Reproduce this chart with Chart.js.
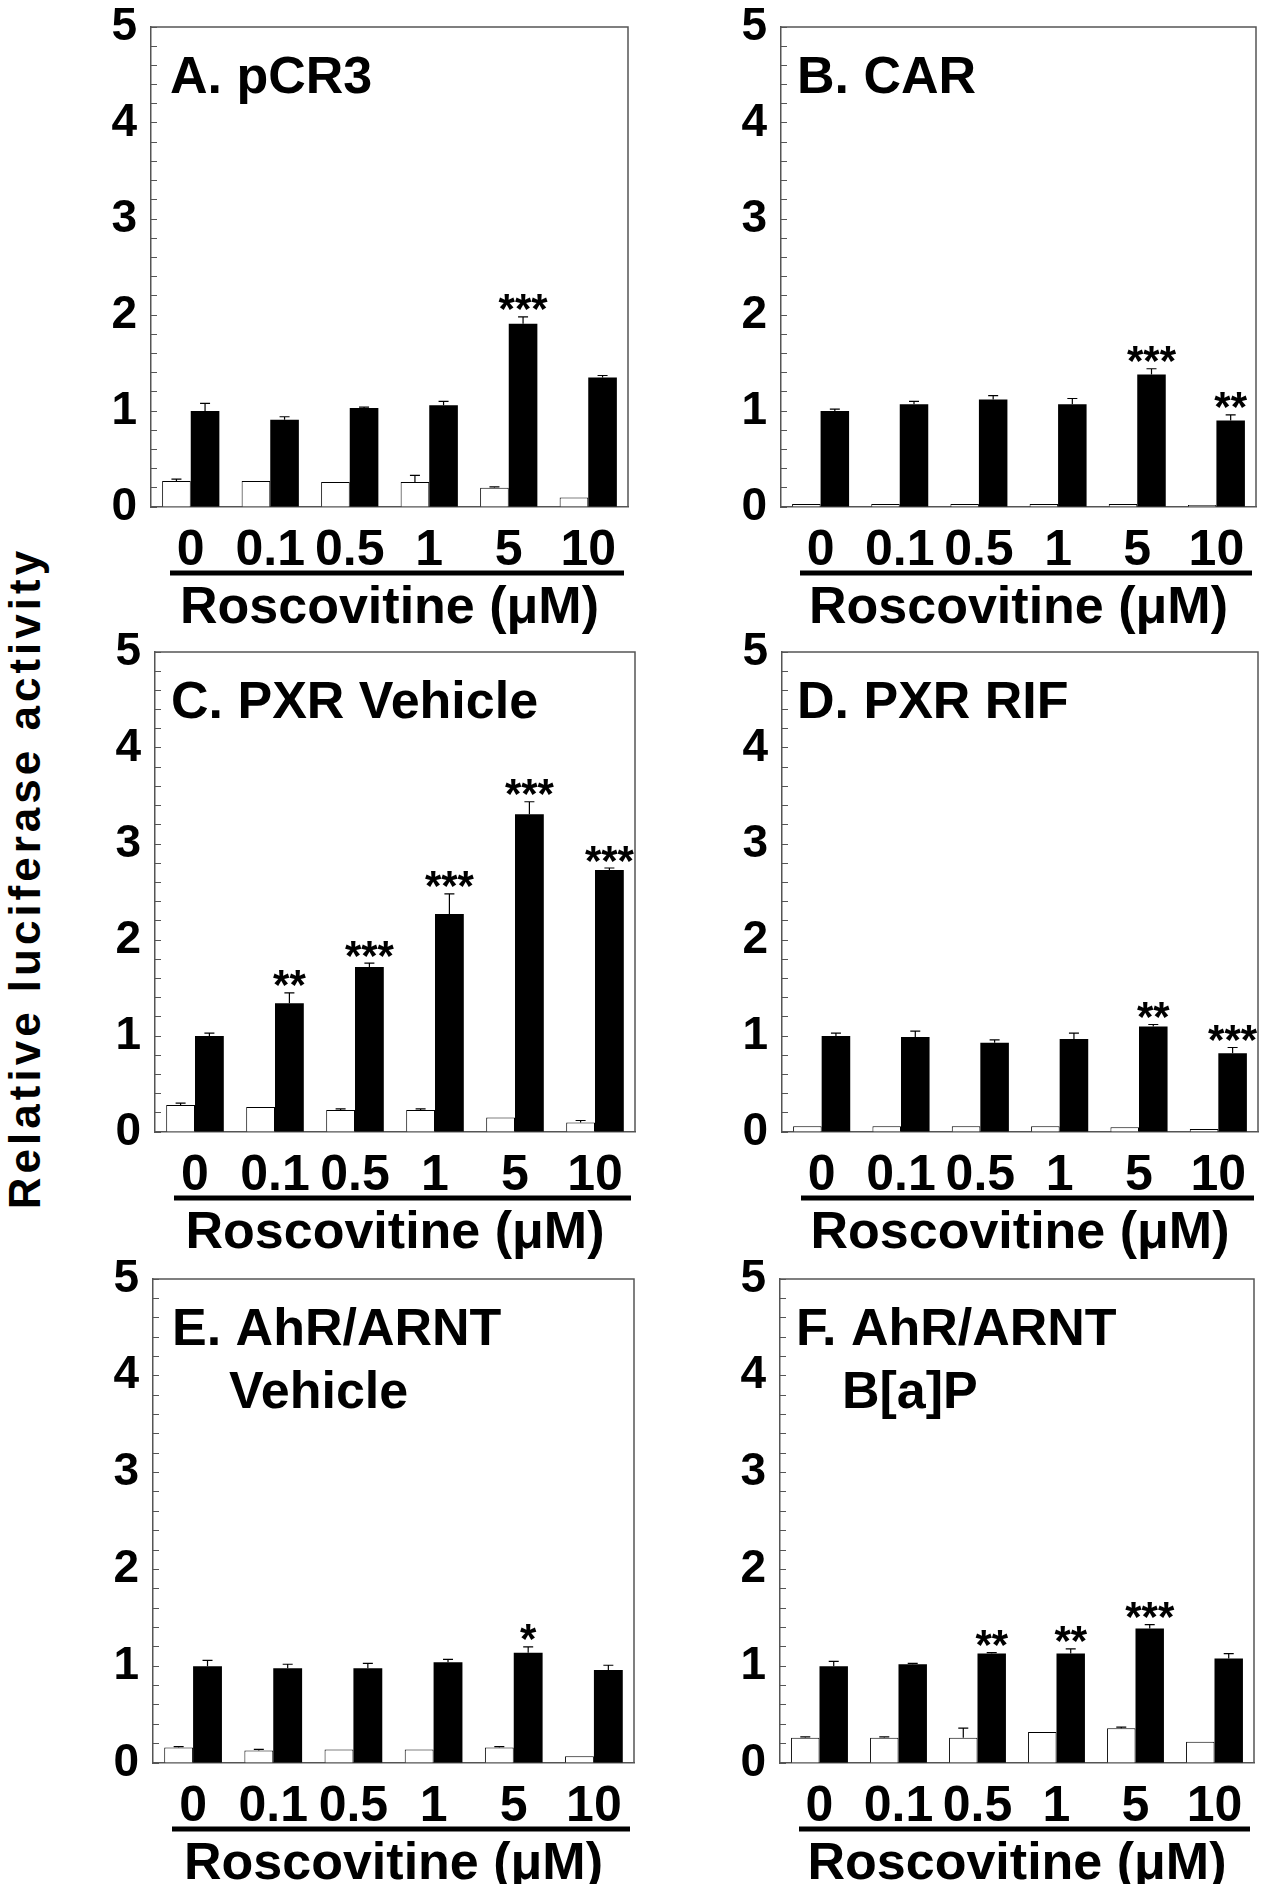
<!DOCTYPE html>
<html>
<head>
<meta charset="utf-8">
<title>Relative luciferase activity - Roscovitine</title>
<script src="https://cdn.jsdelivr.net/npm/chart.js@4.4.0/dist/chart.umd.min.js"></script>
<style>
  html, body { margin: 0; padding: 0; background: #fff; overflow: hidden; }
  body { width: 1263px; height: 1884px; position: relative; }
  canvas { position: absolute; }
  #ytitle {
    position: absolute; left: 25px; top: 878px;
    transform: translate(-50%, -50%) rotate(-90deg);
    font: bold 44px "Liberation Sans", Arial, sans-serif;
    letter-spacing: 4px; white-space: nowrap; color: #000;
  }
</style>
</head>
<body>
<div id="ytitle">Relative luciferase activity</div>
<script>
// categories and axis text
const doses = ['0', '0.1', '0.5', '1', '5', '10'];
const yMajor = [0, 1, 2, 3, 4, 5];
const xTitle = 'Roscovitine (μM)';

// A. pCR3
const titleA = ['A. pCR3'];
const whiteA = [0.27, 0.27, 0.26, 0.26, 0.20, 0.10];
const whiteErrA = [0.02, 0, 0, 0.07, 0.01, 0];
const blackA = [1.00, 0.91, 1.03, 1.06, 1.91, 1.35];
const blackErrA = [0.08, 0.03, 0.01, 0.04, 0.07, 0.02];
const starsA = ['', '', '', '', '***', ''];

// B. CAR
const titleB = ['B. CAR'];
const whiteB = [0.03, 0.03, 0.03, 0.03, 0.03, 0.02];
const whiteErrB = [0, 0, 0, 0, 0, 0];
const blackB = [1.00, 1.07, 1.12, 1.07, 1.38, 0.90];
const blackErrB = [0.02, 0.03, 0.04, 0.06, 0.06, 0.06];
const starsB = ['', '', '', '', '***', '**'];

// C. PXR Vehicle
const titleC = ['C. PXR Vehicle'];
const whiteC = [0.28, 0.26, 0.23, 0.23, 0.15, 0.10];
const whiteErrC = [0.02, 0, 0.01, 0.01, 0, 0.02];
const blackC = [1.00, 1.34, 1.72, 2.27, 3.31, 2.73];
const blackErrC = [0.03, 0.11, 0.04, 0.21, 0.13, 0.02];
const starsC = ['', '**', '***', '***', '***', '***'];

// D. PXR RIF
const titleD = ['D. PXR RIF'];
const whiteD = [0.06, 0.06, 0.06, 0.06, 0.05, 0.03];
const whiteErrD = [0, 0, 0, 0, 0, 0];
const blackD = [1.00, 0.99, 0.93, 0.97, 1.10, 0.82];
const blackErrD = [0.03, 0.06, 0.03, 0.06, 0.02, 0.06];
const starsD = ['', '', '', '', '**', '***'];

// E. AhR/ARNT Vehicle
const titleE = ['E. AhR/ARNT', 'Vehicle'];
const whiteE = [0.16, 0.13, 0.14, 0.14, 0.16, 0.07];
const whiteErrE = [0.01, 0.01, 0, 0, 0.01, 0];
const blackE = [1.00, 0.98, 0.98, 1.04, 1.14, 0.96];
const blackErrE = [0.06, 0.04, 0.05, 0.03, 0.06, 0.05];
const starsE = ['', '', '', '', '*', ''];

// F. AhR/ARNT B[a]P
const titleF = ['F. AhR/ARNT', 'B[a]P'];
const whiteF = [0.26, 0.26, 0.26, 0.32, 0.36, 0.22];
const whiteErrF = [0.01, 0.01, 0.10, 0, 0.01, 0];
const blackF = [1.00, 1.02, 1.13, 1.13, 1.39, 1.08];
const blackErrF = [0.05, 0.01, 0.01, 0.05, 0.04, 0.05];
const starsF = ['', '', '**', '**', '***', ''];

// layout: plot box [left, top, right, bottom] in page pixels, title indents
const panels = [
  { box: [151, 27, 628, 507],    indent: [19],     title: titleA, w: whiteA, we: whiteErrA, b: blackA, be: blackErrA, s: starsA },
  { box: [781, 27, 1256, 507],   indent: [16],     title: titleB, w: whiteB, we: whiteErrB, b: blackB, be: blackErrB, s: starsB },
  { box: [155, 652, 635, 1132],  indent: [16],     title: titleC, w: whiteC, we: whiteErrC, b: blackC, be: blackErrC, s: starsC },
  { box: [782, 652, 1258, 1132], indent: [15],     title: titleD, w: whiteD, we: whiteErrD, b: blackD, be: blackErrD, s: starsD },
  { box: [153, 1279, 634, 1763], indent: [19, 76], title: titleE, w: whiteE, we: whiteErrE, b: blackE, be: blackErrE, s: starsE },
  { box: [780, 1279, 1254, 1763], indent: [16, 62], title: titleF, w: whiteF, we: whiteErrF, b: blackF, be: blackErrF, s: starsF }
];

const FONT = '"Liberation Sans", Arial, sans-serif';
const AXIS_W = 60, PAD_T = 50, PAD_R = 20, XAXIS_H = 135;
const LINE = '#555';

Chart.defaults.font.family = FONT;
Chart.defaults.color = '#000';

// top/right frame, underline under the doses, panel caption
const framePlugin = {
  id: 'frame',
  afterDraw(chart, args, opts) {
    const { ctx, chartArea: a, scales: { x } } = chart;
    ctx.save();
    ctx.strokeStyle = LINE;
    ctx.lineWidth = 1.5;
    ctx.beginPath();
    ctx.moveTo(a.left, a.top);
    ctx.lineTo(a.right, a.top);
    ctx.lineTo(a.right, a.bottom);
    ctx.stroke();

    ctx.strokeStyle = '#000';
    ctx.lineWidth = 5;
    const uy = x.top + 66;
    ctx.beginPath();
    ctx.moveTo(a.left + 19, uy);
    ctx.lineTo(a.right - 4, uy);
    ctx.stroke();

    ctx.fillStyle = '#000';
    ctx.font = 'bold 52px ' + FONT;
    ctx.textAlign = 'left';
    ctx.textBaseline = 'alphabetic';
    opts.title.forEach((t, i) => ctx.fillText(t, a.left + opts.indent[i], a.top + 66 + i * 63));
    ctx.restore();
  }
};

// one-sided error bars and significance stars
const errorPlugin = {
  id: 'errorBars',
  afterDatasetsDraw(chart) {
    const { ctx, scales: { y } } = chart;
    ctx.save();
    chart.data.datasets.forEach((ds, di) => {
      const meta = chart.getDatasetMeta(di);
      meta.data.forEach((bar, i) => {
        const err = ds.errors[i];
        const top = y.getPixelForValue(ds.data[i] + err);
        if (err > 0) {
          ctx.strokeStyle = '#000';
          ctx.lineWidth = 1.2;
          ctx.beginPath();
          ctx.moveTo(bar.x, bar.y);
          ctx.lineTo(bar.x, top);
          ctx.moveTo(bar.x - 5, top);
          ctx.lineTo(bar.x + 5, top);
          ctx.stroke();
        }
        const s = ds.stars && ds.stars[i];
        if (s) {
          ctx.fillStyle = '#000';
          ctx.font = 'bold 42px ' + FONT;
          ctx.textAlign = 'center';
          ctx.textBaseline = 'middle';
          ctx.fillText(s, bar.x, top - 5);
        }
      });
    });
    ctx.restore();
  }
};

function makePanel(p) {
  const [l, t, r, b] = p.box;
  const cv = document.createElement('canvas');
  cv.width = r - l + AXIS_W + PAD_R;
  cv.height = b - t + PAD_T + XAXIS_H;
  cv.style.left = (l - AXIS_W) + 'px';
  cv.style.top = (t - PAD_T) + 'px';
  document.body.appendChild(cv);

  new Chart(cv.getContext('2d'), {
    type: 'bar',
    data: {
      labels: doses,
      datasets: [
        { data: p.w, errors: p.we, backgroundColor: '#fff', borderColor: '#000', borderWidth: 1 },
        { data: p.b, errors: p.be, stars: p.s, backgroundColor: '#000', borderColor: '#000', borderWidth: 0 }
      ]
    },
    options: {
      responsive: false,
      animation: false,
      devicePixelRatio: 1,
      layout: { padding: { left: 0, top: PAD_T, right: PAD_R, bottom: 0 } },
      datasets: { bar: { categoryPercentage: 0.72, barPercentage: 1.0 } },
      plugins: {
        legend: { display: false },
        tooltip: { enabled: false },
        frame: { title: p.title, indent: p.indent }
      },
      scales: {
        x: {
          afterFit: s => { s.height = XAXIS_H; },
          grid: { display: false },
          border: { display: true, color: LINE, width: 1.5 },
          ticks: { font: { size: 50, weight: 'bold', lineHeight: 1 }, padding: 11, maxRotation: 0, autoSkip: false },
          title: { display: true, text: xTitle, font: { size: 52, weight: 'bold', lineHeight: 1.2 }, padding: { top: 0, bottom: 2 } }
        },
        y: {
          min: 0, max: 5,
          afterFit: s => { s.width = AXIS_W; },
          border: { display: true, color: LINE, width: 1.5 },
          grid: { drawOnChartArea: false, drawTicks: true, tickLength: -6, color: LINE, tickWidth: 1 },
          ticks: {
            stepSize: 0.2, autoSkip: false, padding: 20,
            font: { size: 46, weight: 'bold' },
            callback: v => {
              const n = Math.round(v);
              return Math.abs(v - n) < 1e-6 && yMajor.includes(n) ? String(n) : '';
            }
          }
        }
      }
    },
    plugins: [errorPlugin, framePlugin]
  });
}

panels.forEach(makePanel);
</script>
</body>
</html>
